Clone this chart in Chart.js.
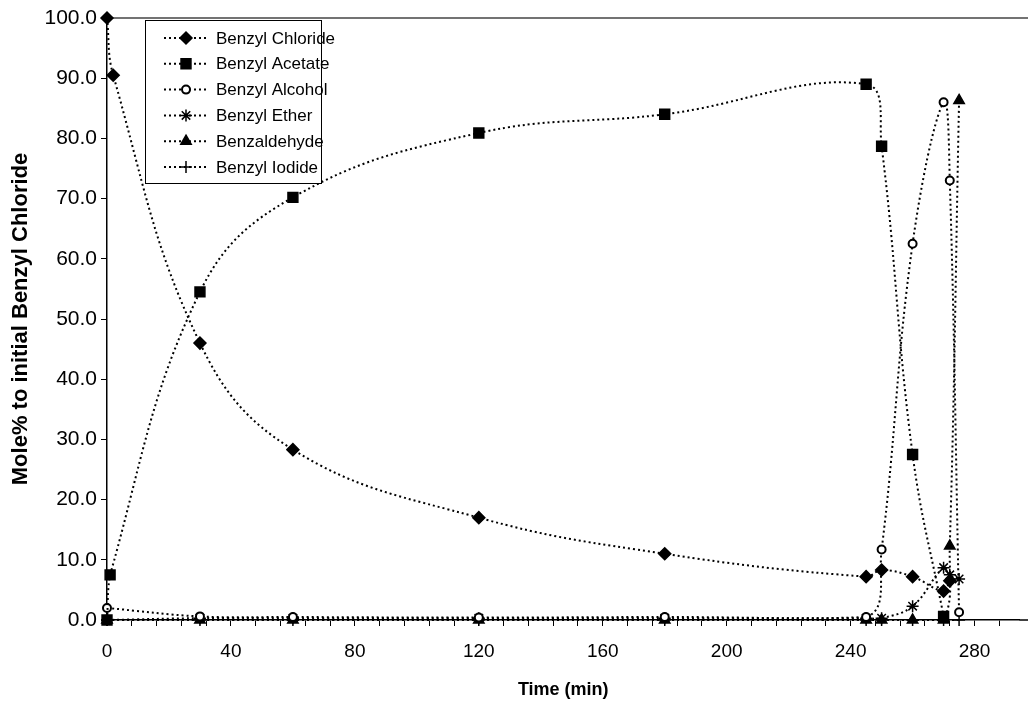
<!DOCTYPE html>
<html>
<head>
<meta charset="utf-8">
<script src="https://cdn.jsdelivr.net/npm/chart.js@4.4.0/dist/chart.umd.min.js"></script>
<style>
  html, body { margin: 0; padding: 0; background: #fff; }
  #wrap { position: relative; width: 1028px; height: 702px; }
</style>
</head>
<body>
<div id="wrap"><canvas id="chart" width="1028" height="702"></canvas></div>
<script>
// sampling times (min) and mole % values
var chlorideTime = [0, 2, 30, 60, 120, 180, 245, 250, 260, 270, 272];
var chlorideVals = [100.0, 90.5, 46.0, 28.3, 17.0, 11.0, 7.2, 8.3, 7.2, 4.8, 6.5];

var acetateTime = [0, 1, 30, 60, 120, 180, 245, 250, 260, 270];
var acetateVals = [0.0, 7.5, 54.5, 70.2, 80.9, 84.0, 89.0, 78.7, 27.5, 0.6];

var alcoholTime = [0, 30, 60, 120, 180, 245, 250, 260, 270, 272, 275];
var alcoholVals = [2.0, 0.6, 0.5, 0.4, 0.5, 0.5, 11.7, 62.5, 86.0, 73.0, 1.3];

var etherTime = [0, 30, 60, 120, 180, 245, 250, 260, 270, 272, 275];
var etherVals = [0.0, 0.3, 0.3, 0.3, 0.3, 0.3, 0.3, 2.3, 8.7, 7.5, 6.8];

var aldehydeTime = [0, 30, 60, 120, 180, 245, 250, 260, 270, 272, 275];
var aldehydeVals = [0.0, 0.0, 0.0, 0.0, 0.0, 0.0, 0.0, 0.0, 0.0, 12.3, 86.3];

var iodideTime = [0, 30, 60, 120, 180, 245, 250, 260, 270, 275];
var iodideVals = [0.0, 0.0, 0.0, 0.0, 0.0, 0.0, 0.0, 0.0, 0.0, 0.0];

var seriesNames = ["Benzyl Chloride", "Benzyl Acetate", "Benzyl Alcohol",
                   "Benzyl Ether", "Benzaldehyde", "Benzyl Iodide"];

var FONT = '"Liberation Sans", Arial, sans-serif';

function pairs(t, v) {
  return t.map(function (x, i) { return { x: x, y: v[i] }; });
}

function makeSet(name, t, v, style, radius, fill) {
  return {
    label: name,
    data: pairs(t, v),
    showLine: true,
    clip: 9,
    borderColor: "#000",
    borderWidth: 2,
    borderDash: [2, 3],
    tension: 0.4,
    pointStyle: style,
    pointRadius: radius,
    pointHoverRadius: radius,
    pointBackgroundColor: fill,
    pointBorderColor: "#000",
    pointBorderWidth: style === "circle" ? 2 : 1.5,
  };
}

var datasets = [
  makeSet(seriesNames[0], chlorideTime, chlorideVals, "rectRot", 6, "#000"),
  makeSet(seriesNames[1], acetateTime, acetateVals, "rect", 7, "#000"),
  makeSet(seriesNames[2], alcoholTime, alcoholVals, "circle", 4, "#fff"),
  makeSet(seriesNames[3], etherTime, etherVals, "star", 6, "#000"),
  makeSet(seriesNames[4], aldehydeTime, aldehydeVals, "triangle", 6, "#000"),
  makeSet(seriesNames[5], iodideTime, iodideVals, "cross", 6, "#000"),
];

// plot frame: top line, and the x axis carried on to the page edge
var frameTop = {
  id: "frameTop",
  beforeDatasetsDraw: function (chart) {
    var a = chart.chartArea, ctx = chart.ctx;
    ctx.save();
    ctx.strokeStyle = "#444";
    ctx.lineWidth = 1.5;
    ctx.beginPath();
    ctx.moveTo(a.left, a.top);
    ctx.lineTo(1028, a.top);
    ctx.stroke();
    ctx.strokeStyle = "#000";
    ctx.beginPath();
    ctx.moveTo(a.right, a.bottom);
    ctx.lineTo(1028, a.bottom);
    ctx.stroke();
    ctx.restore();
  },
};

// boxed legend in the upper left of the plot
var boxLegend = {
  id: "boxLegend",
  afterDraw: function (chart) {
    var ctx = chart.ctx;
    var x0 = 145, y0 = 20, w = 176, h = 163;
    ctx.save();
    ctx.fillStyle = "#fff";
    ctx.fillRect(x0, y0, w, h);
    ctx.strokeStyle = "#000";
    ctx.lineWidth = 1;
    ctx.strokeRect(x0 + 0.5, y0 + 0.5, w, h);
    chart.data.datasets.forEach(function (ds, i) {
      var y = y0 + 18 + i * 25.8;
      ctx.strokeStyle = "#000";
      ctx.lineWidth = 2;
      ctx.setLineDash([2, 3]);
      ctx.beginPath();
      ctx.moveTo(164, y);
      ctx.lineTo(209, y);
      ctx.stroke();
      ctx.setLineDash([]);
      ctx.fillStyle = ds.pointBackgroundColor;
      ctx.lineWidth = ds.pointBorderWidth;
      Chart.helpers.drawPoint(ctx, {
        pointStyle: ds.pointStyle,
        radius: ds.pointRadius,
        borderWidth: ds.pointBorderWidth,
        rotation: 0,
      }, 186, y);
      ctx.fillStyle = "#000";
      ctx.font = "17px " + FONT;
      ctx.textBaseline = "middle";
      ctx.textAlign = "left";
      ctx.fillText(ds.label, 216, y + 1);
    });
    ctx.restore();
  },
};

var ctx = document.getElementById("chart").getContext("2d");
new Chart(ctx, {
  type: "scatter",
  data: { datasets: datasets },
  options: {
    responsive: false,
    animation: false,
    events: [],
    layout: { padding: { left: 0, right: 0, top: 18, bottom: 0 } },
    plugins: {
      legend: { display: false },
      tooltip: { enabled: false },
    },
    scales: {
      x: {
        type: "linear",
        min: 0,
        max: 294.5,
        afterBuildTicks: function (scale) {
          var t = [];
          for (var v = 0; v <= 288; v += 8) t.push({ value: v });
          scale.ticks = t;
        },
        afterFit: function (scale) { scale.height = 82; },
        border: { color: "#000", width: 1.5 },
        grid: {
          drawOnChartArea: false,
          color: "#000",
          tickLength: 6,
          tickWidth: 1,
        },
        ticks: {
          autoSkip: false,
          maxRotation: 0,
          padding: 14,
          color: "#000",
          font: { family: FONT, size: 19 },
          callback: function (v) { return v % 40 === 0 ? String(v) : ""; },
        },
        title: {
          display: true,
          text: "Time (min)",
          color: "#000",
          padding: { top: 0, bottom: 1 },
          font: { family: FONT, size: 18, weight: "bold" },
        },
      },
      y: {
        min: 0,
        max: 100,
        afterFit: function (scale) { scale.width = 107; },
        border: { color: "#000", width: 1.5 },
        grid: {
          drawOnChartArea: false,
          color: "#000",
          tickLength: 6,
        },
        ticks: {
          stepSize: 10,
          padding: 4,
          color: "#000",
          font: { family: FONT, size: 21 },
          callback: function (v) { return v.toFixed(1); },
        },
        title: {
          display: true,
          text: "Mole% to initial Benzyl Chloride",
          color: "#000",
          padding: { top: 8, bottom: 0 },
          font: { family: FONT, size: 22, weight: "bold" },
        },
      },
    },
  },
  plugins: [frameTop, boxLegend],
});
</script>
</body>
</html>
